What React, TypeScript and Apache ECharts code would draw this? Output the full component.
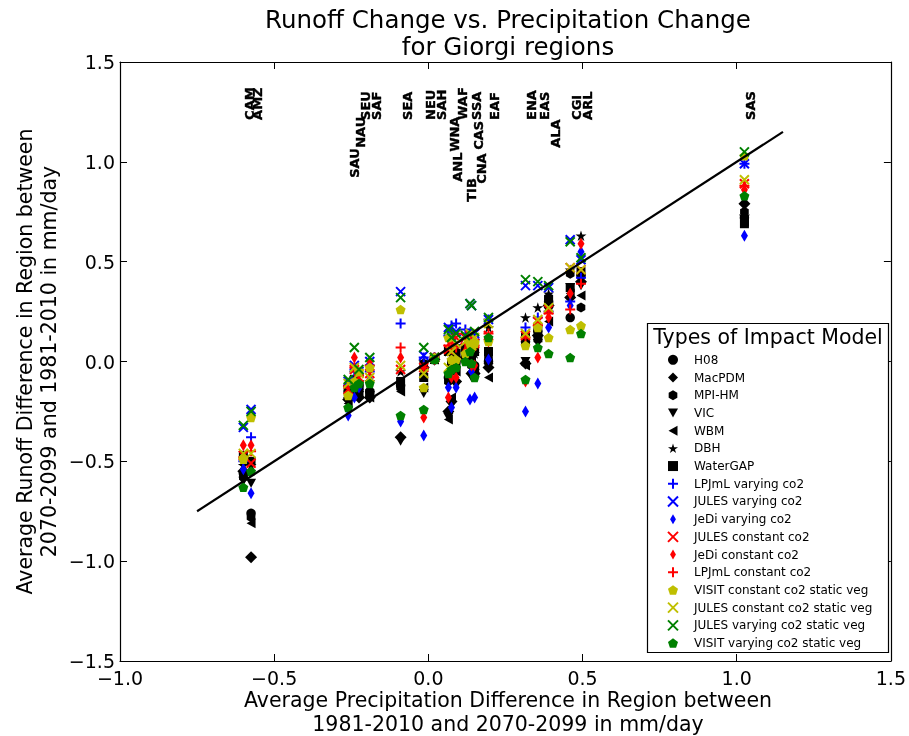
import React, { useEffect, useRef } from 'react';
import * as echarts from 'echarts';

// ---------- data ----------
const regions = ['CAM', 'AMZ', 'SAU', 'NAU', 'SEU', 'SAF', 'SEA', 'NEU', 'SAH', 'WNA', 'ANL', 'WAF', 'TIB', 'SSA', 'CAS', 'CNA', 'EAF', 'ENA', 'EAS', 'ALA', 'CGI', 'ARL', 'SAS'];
const precipChange = [-0.60, -0.575, -0.26, -0.24, -0.225, -0.19, -0.09, -0.015, 0.02, 0.065, 0.075, 0.09, 0.12, 0.135, 0.14, 0.15, 0.195, 0.315, 0.355, 0.39, 0.46, 0.495, 1.025];
const labelHeights = [1.21, 1.21, 0.92, 1.07, 1.21, 1.21, 1.21, 1.21, 1.21, 1.05, 0.90, 1.21, 0.80, 1.21, 1.06, 0.89, 1.21, 1.21, 1.21, 1.07, 1.21, 1.21, 1.21];

const h08 = [-0.56, -0.76, -0.15, -0.10, -0.12, -0.15, -0.12, -0.04, 0.01, -0.08, -0.02, 0.00, 0.05, 0.08, 0.00, -0.02, 0.00, 0.10, 0.15, 0.30, 0.22, 0.43, 0.72];
const macPDM = [-0.55, -0.98, -0.19, -0.14, -0.18, -0.18, -0.38, -0.03, 0.01, -0.25, -0.20, -0.10, 0.02, 0.05, -0.06, -0.06, -0.03, -0.01, 0.13, 0.28, 0.32, 0.40, 0.79];
const mpiHM = [-0.58, -0.78, -0.17, -0.12, -0.14, -0.16, -0.13, -0.01, 0.02, -0.10, -0.05, -0.02, 0.04, 0.07, -0.02, -0.03, 0.02, 0.09, 0.11, 0.32, 0.44, 0.27, 0.75];
const vic = [-0.60, -0.61, -0.20, -0.16, -0.17, -0.17, -0.40, -0.16, 0.01, -0.28, -0.22, -0.12, 0.00, 0.04, -0.08, -0.06, -0.03, 0.00, 0.09, 0.25, 0.37, 0.38, 0.71];
const wbm = [-0.57, -0.81, -0.21, -0.15, -0.16, -0.18, -0.15, -0.13, 0.01, -0.29, -0.18, -0.05, 0.03, 0.06, -0.05, -0.05, -0.08, -0.02, 0.12, 0.20, 0.34, 0.33, 0.70];
const dbh = [-0.52, -0.52, -0.13, -0.08, -0.10, -0.10, -0.05, 0.00, 0.02, 0.05, 0.03, 0.08, 0.08, 0.12, 0.06, 0.04, 0.17, 0.22, 0.27, 0.34, 0.46, 0.63, 0.73];
const waterGAP = [-0.47, -0.50, -0.14, -0.09, -0.12, -0.16, -0.10, -0.08, 0.01, 0.05, -0.01, 0.04, 0.06, 0.10, 0.02, 0.05, 0.05, 0.12, 0.17, 0.31, 0.37, 0.45, 0.69];
const lpjmlVarying = [-0.50, -0.38, -0.12, -0.05, -0.07, -0.05, 0.19, 0.02, 0.02, 0.13, 0.18, 0.19, 0.16, 0.14, 0.13, 0.11, 0.21, 0.17, 0.22, 0.25, 0.30, 0.42, 0.99];
const julesVarying = [-0.33, -0.24, -0.10, -0.02, -0.05, 0.00, 0.35, 0.03, 0.02, 0.17, 0.13, 0.15, 0.12, 0.29, 0.28, 0.14, 0.21, 0.38, 0.38, 0.37, 0.61, 0.51, 0.99];
const jediVarying = [-0.54, -0.66, -0.27, -0.18, -0.13, -0.09, -0.30, -0.37, 0.01, -0.13, -0.23, -0.13, 0.03, -0.19, -0.05, -0.18, 0.01, -0.25, -0.11, 0.17, 0.28, 0.55, 0.63];
const julesConstant = [-0.47, -0.51, -0.14, -0.04, -0.08, -0.06, -0.04, -0.03, 0.02, 0.06, 0.10, 0.12, 0.12, 0.13, 0.10, 0.09, 0.13, 0.13, 0.20, 0.26, 0.47, 0.46, 0.89];
const jediConstant = [-0.42, -0.42, -0.16, 0.02, -0.06, 0.00, 0.02, -0.28, 0.01, -0.18, -0.08, -0.08, 0.05, 0.06, -0.02, -0.02, 0.10, -0.10, 0.02, 0.22, 0.34, 0.59, 0.86];
const lpjmlConstant = [-0.48, -0.45, -0.13, -0.03, -0.07, -0.02, 0.07, -0.03, 0.02, 0.08, 0.07, 0.07, 0.09, 0.11, 0.06, 0.08, 0.14, 0.12, 0.18, 0.24, 0.26, 0.39, 0.88];
const visitConstantStatic = [-0.49, -0.28, -0.17, -0.10, -0.05, -0.03, 0.26, -0.13, 0.02, 0.12, 0.01, 0.01, 0.04, 0.09, 0.07, 0.09, 0.10, 0.08, 0.17, 0.12, 0.16, 0.18, 1.03];
const julesConstantStatic = [-0.46, -0.46, -0.11, -0.03, -0.06, -0.08, -0.02, -0.06, 0.02, -0.03, 0.05, 0.09, 0.10, 0.14, 0.08, 0.12, 0.19, 0.14, 0.21, 0.27, 0.47, 0.46, 0.91];
const julesVaryingStatic = [-0.32, -0.25, -0.09, 0.07, -0.04, 0.02, 0.32, 0.07, 0.02, 0.16, 0.12, 0.14, 0.13, 0.29, 0.28, 0.15, 0.22, 0.41, 0.40, 0.38, 0.60, 0.52, 1.05];
const visitVaryingStatic = [-0.63, -0.55, -0.23, -0.13, -0.11, -0.11, -0.27, -0.24, 0.01, -0.06, -0.04, -0.03, 0.00, 0.05, -0.01, -0.08, 0.12, -0.09, 0.07, 0.04, 0.02, 0.14, 0.83];

const modelNames = [
  'H08', 'MacPDM', 'MPI-HM', 'VIC', 'WBM', 'DBH', 'WaterGAP',
  'LPJmL varying co2', 'JULES varying co2', 'JeDi varying co2',
  'JULES constant co2', 'JeDi constant co2', 'LPJmL constant co2',
  'VISIT constant co2 static veg', 'JULES constant co2 static veg',
  'JULES varying co2 static veg', 'VISIT varying co2 static veg',
];
const modelValues = [
  h08, macPDM, mpiHM, vic, wbm, dbh, waterGAP,
  lpjmlVarying, julesVarying, jediVarying,
  julesConstant, jediConstant, lpjmlConstant,
  visitConstantStatic, julesConstantStatic, julesVaryingStatic, visitVaryingStatic,
];
const fitLine = [[-0.75, -0.75], [1.15, 1.15]];
const xTicks = { min: -1.0, max: 1.5, step: 0.5 };
const yTicks = { min: -1.5, max: 1.5, step: 0.5 };

// ---------- styles ----------
const K = '#000000', B = '#0000ff', R = '#ff0000', Y = '#bfbf00', G = '#008000';
const PLUS = 'path://M0 5 L10 5 M5 0 L5 10';
const CROSS = 'path://M0 0 L10 10 M0 10 L10 0';
const STAR = 'path://M0 -1 L0.2245 -0.309 L0.951 -0.309 L0.363 0.118 L0.588 0.809 L0 0.382 L-0.588 0.809 L-0.363 0.118 L-0.951 -0.309 L-0.2245 -0.309 Z';
const HEX = 'path://M0 -1 L0.866 -0.5 L0.866 0.5 L0 1 L-0.866 0.5 L-0.866 -0.5 Z';
const PENT = 'path://M0 -1 L0.951 -0.309 L0.588 0.809 L-0.588 0.809 L-0.951 -0.309 Z';
const TRI_DOWN = 'path://M0 0 L10 0 L5 9 Z';
const TRI_LEFT = 'path://M9 0 L9 10 L0 5 Z';
const THIN_DIAMOND = 'path://M3.5 0 L7 6 L3.5 12 L0 6 Z';
const SQUARE_DIAMOND = 'path://M5 0 L10 5 L5 10 L0 5 Z';

type St = { symbol: string; size: number | number[]; color: string; stroke?: boolean };
const styles: St[] = [
  { symbol: 'circle', size: 9.5, color: K },
  { symbol: SQUARE_DIAMOND, size: 12, color: K },
  { symbol: HEX, size: 10, color: K },
  { symbol: TRI_DOWN, size: 10, color: K },
  { symbol: TRI_LEFT, size: 10, color: K },
  { symbol: STAR, size: 11, color: K },
  { symbol: 'rect', size: 9, color: K },
  { symbol: PLUS, size: 10, color: B, stroke: true },
  { symbol: CROSS, size: 9, color: B, stroke: true },
  { symbol: THIN_DIAMOND, size: 12, color: B },
  { symbol: CROSS, size: 9, color: R, stroke: true },
  { symbol: THIN_DIAMOND, size: 12, color: R },
  { symbol: PLUS, size: 10, color: R, stroke: true },
  { symbol: PENT, size: 10, color: Y },
  { symbol: CROSS, size: 9, color: Y, stroke: true },
  { symbol: CROSS, size: 9, color: G, stroke: true },
  { symbol: PENT, size: 10, color: G },
];

const FONT = 'DejaVu Sans';
const fmt = (v: number) => v.toFixed(1).replace('-', '\u2212');

export default function App() {
  const ref = useRef<HTMLDivElement>(null);
  useEffect(() => {
    if (!ref.current) return;
    const chart = echarts.init(ref.current, undefined, { renderer: 'svg' });
    const axisCommon = {
      type: 'value' as const,
      splitLine: { show: false },
      axisLine: { show: true, onZero: false, lineStyle: { color: '#000', width: 1.2 } },
      axisTick: { show: true, inside: true, length: 7, lineStyle: { color: '#000', width: 1 } },
    };
    const scatterSeries = modelNames.map((name, i) => {
      const s = styles[i];
      return {
        type: 'scatter',
        name,
        xAxisIndex: 0,
        yAxisIndex: 0,
        data: precipChange.map((x, j) => [x, modelValues[i][j]]),
        symbol: s.symbol,
        symbolSize: s.size,
        symbolKeepAspect: true,
        itemStyle: s.stroke
          ? { color: s.color, borderColor: s.color, borderWidth: 2, opacity: 1 }
          : { color: s.color, opacity: 1 },
        emphasis: { disabled: true },
        silent: true,
      };
    });
    const titleStyle = (text: string, size: number) => ({
      text, fontSize: size, fontFamily: FONT, fill: '#000', textAlign: 'center', textVerticalAlign: 'middle',
    });
    chart.setOption({
      animation: false,
      textStyle: { fontFamily: FONT },
      grid: { left: 120, top: 62, width: 776, height: 599, containLabel: false },
      xAxis: [
        {
          ...axisCommon, position: 'bottom', min: xTicks.min, max: xTicks.max, interval: xTicks.step,
          axisLabel: { show: true, formatter: fmt, color: '#000', fontSize: 19, fontFamily: FONT, margin: 7 },
        },
        {
          ...axisCommon, position: 'top', min: xTicks.min, max: xTicks.max, interval: xTicks.step,
          axisLabel: { show: false },
        },
      ],
      yAxis: [
        {
          ...axisCommon, position: 'left', min: yTicks.min, max: yTicks.max, interval: yTicks.step,
          axisLabel: { show: true, formatter: fmt, color: '#000', fontSize: 19, fontFamily: FONT, margin: 5 },
        },
        {
          ...axisCommon, position: 'right', min: yTicks.min, max: yTicks.max, interval: yTicks.step,
          axisLabel: { show: false },
        },
      ],
      legend: {
        data: modelNames.map((name) => ({ name })),
        orient: 'vertical',
        left: 667,
        top: 351,
        itemWidth: 10,
        itemHeight: 10,
        itemGap: 0,
        selectedMode: false,
        symbolKeepAspect: true,
        z: 10,
        padding: 0,
        textStyle: { fontFamily: FONT, fontSize: 12, color: '#000', lineHeight: 17.7, padding: [0, 0, 0, 11] },
      },
      graphic: [
        { type: 'rect', z: 5, shape: { x: 647.5, y: 323.5, width: 241, height: 329 }, style: { fill: '#fff', stroke: '#000', lineWidth: 1.2 } },
        { type: 'text', z: 6, x: 768, y: 337, style: titleStyle('Types of Impact Model', 20.5) },
        { type: 'text', x: 508, y: 19.5, style: titleStyle('Runoff Change vs. Precipitation Change', 24.5) },
        { type: 'text', x: 508, y: 46.5, style: titleStyle('for Giorgi regions', 24.5) },
        { type: 'text', x: 508, y: 700, style: titleStyle('Average Precipitation Difference in Region between', 20.5) },
        { type: 'text', x: 508, y: 724, style: titleStyle('1981-2010 and 2070-2099 in mm/day', 20.5) },
        { type: 'text', x: 25, y: 361.5, rotation: Math.PI / 2, style: titleStyle('Average Runoff Difference in Region between', 20.5) },
        { type: 'text', x: 49, y: 361.5, rotation: Math.PI / 2, style: titleStyle('2070-2099 and 1981-2010 in mm/day', 20.5) },
      ],
      series: [
        ...scatterSeries,
        {
          type: 'line',
          name: 'fit',
          data: fitLine,
          symbol: 'none',
          lineStyle: { color: '#000', width: 2.2 },
          silent: true,
          z: 3,
        },
        {
          type: 'scatter',
          name: 'regionLabels',
          data: precipChange.map((x, j) => ({ value: [x, labelHeights[j]], name: regions[j] })),
          symbolSize: 0,
          itemStyle: { color: '#000', opacity: 1 },
          silent: true,
          z: 4,
          label: {
            show: true,
            position: 'inside',
            rotate: 90,
            align: 'left',
            verticalAlign: 'top',
            formatter: (p: any) => p.name,
            color: '#000',
            opacity: 1,
            textBorderColor: '#000',
            textBorderWidth: 0.4,
            fontFamily: FONT,
            fontSize: 13,
            fontWeight: 'bold',
          },
        },
      ],
    });
    return () => chart.dispose();
  }, []);
  return <div ref={ref} style={{ position: 'fixed', left: 0, top: 0, width: 909, height: 736 }} />;
}
